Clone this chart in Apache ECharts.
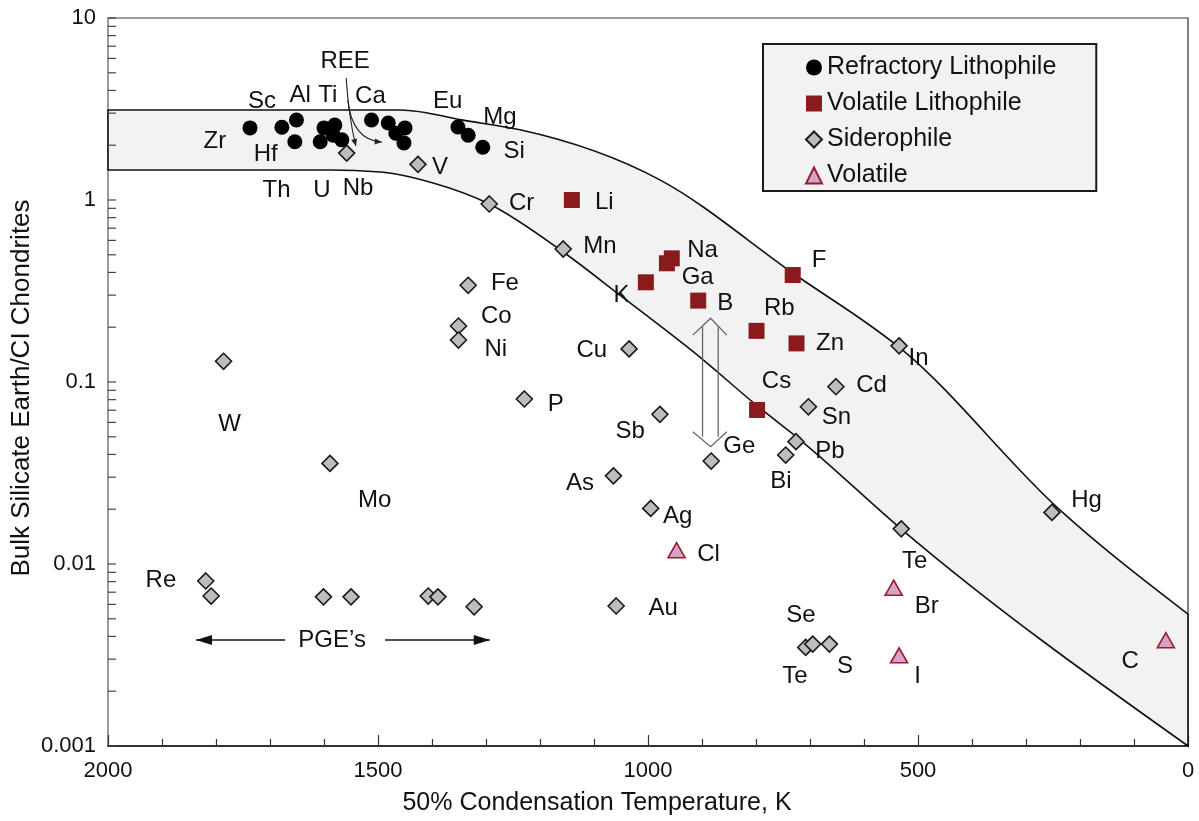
<!DOCTYPE html>
<html><head><meta charset="utf-8">
<script src="https://cdn.jsdelivr.net/npm/echarts@6/dist/echarts.min.js"></script>
<style>html,body{margin:0;padding:0;background:#fff}#c{width:1199px;height:821px}</style>
</head><body><div id="c"></div>
<script>
// ---------------- data (T in K, value = BSE/CI) ----------------
const refractoryLithophile = [[1737,2.49],[1678,2.51],[1651,2.75],[1654,2.09],[1607,2.09],[1600,2.49],[1580,2.58],[1583,2.27],[1567,2.14],[1512,2.75],[1481,2.65],[1467,2.33],[1450,2.49],[1452,2.06],[1352,2.52],[1333,2.27],[1306,1.95]];
const volatileLithophile = [[1141,1.0],[956,0.478],[965,0.449],[1004,0.353],[907,0.280],[732,0.387],[799,0.191],[725,0.163],[798,0.0702]];
const siderophile = [[1558,1.81],[1426,1.57],[1294,0.951],[1157,0.538],[1333,0.340],[1351,0.203],[1351,0.170],[1035,0.152],[1229,0.0807],[1786,0.130],[1589,0.0357],[1819,0.00807],[1809,0.00667],[1601,0.0066],[1550,0.0066],[1407,0.00667],[1389,0.0066],[1322,0.00582],[978,0.0664],[1064,0.0305],[995,0.0202],[1059,0.00588],[883,0.0368],[745,0.0397],[726,0.0470],[703,0.0731],[652,0.0942],[535,0.158],[252,0.0192],[531,0.0156],[708,0.00348],[695,0.00363],[664,0.00363]];
const volatileElements = [[947,0.0119],[545,0.00741],[535,0.00315],[41,0.00381]];

const bandUpper = [[2000,3.12],[1459,3.12],[1335,2.72],[1237,2.43],[978,1.29],[732,0.397],[524,0.146],[241,0.0203],[0,0.00531]];
const bandLower = [[2000,1.462],[1589,1.462],[1496,1.426],[1398,1.240],[1294,0.951],[1157,0.518],[1052,0.300],[904,0.137],[793,0.0720],[718,0.048],[531,0.01556],[0,0.001]];

const labelNames = ['REE','Sc','Al','Ti','Ca','Eu','Mg','Zr','Hf','Si','V','Th','U','Nb','Cr','Li','Mn','Na','Ga','K','B','F','Fe','Co','Ni','Cu','Rb','Zn','Cs','Cd','In','Sn','P','Sb','Ge','Pb','Bi','W','Mo','As','Ag','Cl','Te','Hg','Re','Au','Se','Br','Te','S','I','C','PGE\u2019s'];
const labelPos = [[1561,5.75],[1715,3.47],[1644,3.78],[1593,3.78],[1514,3.69],[1371,3.47],[1274,2.86],[1802,2.09],[1708,1.77],[1248,1.86],[1385,1.52],[1688,1.135],[1604,1.135],[1537,1.16],[1234,0.959],[1081,0.966],[1089,0.559],[899,0.526],[908,0.374],[1049,0.301],[857,0.271],[683,0.468],[1265,0.348],[1281,0.229],[1282,0.152],[1104,0.150],[757,0.254],[663,0.162],[762,0.1005],[586,0.0953],[499,0.135],[651,0.064],[1171,0.0757],[1033,0.0533],[831,0.0445],[663,0.0418],[754,0.0283],[1775,0.0586],[1506,0.0225],[1126,0.0277],[945,0.0182],[888,0.01135],[506,0.0103],[188,0.0225],[1902,0.00817],[972,0.00571],[717,0.00522],[484,0.00588],[728,0.0024],[635,0.00275],[501,0.0024],[107,0.0029],[1585,0.00382]];

// annotations (data coordinates)
const pgeArrows = [[[1672,0.00382],[1837,0.00382]],[[1487,0.00382],[1293,0.00382]]];
const doubleArrowLines = [[[899,0.201],[899,0.0501]],[[870,0.201],[870,0.0501]]];
const doubleArrowHeads = [[[917,0.181],[884,0.224],[854,0.181]],[[917,0.0533],[884,0.0441],[854,0.0533]]];
const reeCurves = [[[1559,4.68],[1554,2.82],[1541,1.98]],[[1556,3.54],[1548,2.14],[1493,2.08]]];

const xTickLabels = ['0','500','1000','1500','2000'];
const yTickValues = [0.001,0.01,0.1,1,10];
const yTickLabels = ['0.001','0.01','0.1','1','10'];
const yMinorTickValues = [];
for (let e = -3; e <= 0; e++) for (let k = 1; k <= 9; k++) yMinorTickValues.push(k * Math.pow(10, e));
yMinorTickValues.push(10);

const FONT = "'Liberation Sans', Arial, Helvetica, sans-serif";

// ---------------- helpers ----------------
function monoTangents(P) {
  const n = P.length, m = new Array(n), s = [], h = [];
  for (let i = 0; i < n - 1; i++) { h[i] = P[i+1][0] - P[i][0]; s[i] = (P[i+1][1] - P[i][1]) / h[i]; }
  for (let i = 1; i < n - 1; i++) {
    const s0 = s[i-1], s1 = s[i], h0 = h[i-1], h1 = h[i];
    const p = (s0 * h1 + s1 * h0) / (h0 + h1);
    m[i] = (Math.sign(s0) + Math.sign(s1)) * Math.min(Math.abs(s0), Math.abs(s1), 0.5 * Math.abs(p)) || 0;
  }
  m[0] = (3 * s[0] - (n > 2 ? m[1] : s[0])) / 2;
  m[n-1] = (3 * s[n-2] - (n > 2 ? m[n-2] : s[n-2])) / 2;
  return m;
}
function segs(P) {
  const m = monoTangents(P), out = [];
  for (let i = 0; i < P.length - 1; i++) {
    const h = P[i+1][0] - P[i][0];
    out.push([[P[i][0] + h/3, P[i][1] + m[i]*h/3], [P[i+1][0] - h/3, P[i+1][1] - m[i+1]*h/3]]);
  }
  return out;
}
function f(v) { return v.toFixed(2); }
function arrowHead(from, to, len, hw, color) {
  const dx = to[0]-from[0], dy = to[1]-from[1], L = Math.hypot(dx, dy) || 1;
  const ux = dx/L, uy = dy/L, bx = to[0]-ux*len, by = to[1]-uy*len;
  return {type:'polygon', shape:{points:[[to[0],to[1]],[bx - uy*hw, by + ux*hw],[bx + uy*hw, by - ux*hw]]}, style:{fill:color}};
}

function renderBand(params, api) {
  const U = bandUpper.map(p => api.coord(p));
  const Lo = bandLower.map(p => api.coord(p));
  const su = segs(U), sl = segs(Lo);
  let d = 'M' + f(U[0][0]) + ' ' + f(U[0][1]);
  for (let i = 0; i < su.length; i++) d += ' C' + f(su[i][0][0]) + ' ' + f(su[i][0][1]) + ' ' + f(su[i][1][0]) + ' ' + f(su[i][1][1]) + ' ' + f(U[i+1][0]) + ' ' + f(U[i+1][1]);
  const n = Lo.length;
  d += ' L' + f(Lo[n-1][0]) + ' ' + f(Lo[n-1][1]);
  for (let i = sl.length - 1; i >= 0; i--) d += ' C' + f(sl[i][1][0]) + ' ' + f(sl[i][1][1]) + ' ' + f(sl[i][0][0]) + ' ' + f(sl[i][0][1]) + ' ' + f(Lo[i][0]) + ' ' + f(Lo[i][1]);
  d += ' Z';
  return {type:'path', shape:{pathData:d}, style:{fill:'#f2f2f2', stroke:'#111', lineWidth:1.6}};
}

function renderAnnotations(params, api) {
  const c = p => api.coord(p);
  const kids = [];
  // log-axis ticks on the inside of the left axis
  yMinorTickValues.forEach(v => {
    const p = c([2000, v]);
    kids.push({type:'line', shape:{x1:p[0], y1:p[1], x2:p[0] + 8, y2:p[1]}, style:{stroke:'#444', lineWidth:1.2}});
  });
  pgeArrows.forEach(a => {
    const p0 = c(a[0]), p1 = c(a[1]);
    kids.push({type:'line', shape:{x1:p0[0], y1:p0[1], x2:p1[0], y2:p1[1]}, style:{stroke:'#111', lineWidth:1.6}});
    kids.push(arrowHead(p0, p1, 16, 5, '#111'));
  });
  doubleArrowLines.forEach(a => {
    const p0 = c(a[0]), p1 = c(a[1]);
    kids.push({type:'line', shape:{x1:p0[0], y1:p0[1], x2:p1[0], y2:p1[1]}, style:{stroke:'#666', lineWidth:1.3}});
  });
  doubleArrowHeads.forEach(a => {
    kids.push({type:'polyline', shape:{points:a.map(c)}, style:{stroke:'#666', lineWidth:1.3, fill:null}});
  });
  reeCurves.forEach(a => {
    const p0 = c(a[0]), cp = c(a[1]), p1 = c(a[2]);
    kids.push({type:'bezierCurve', shape:{x1:p0[0], y1:p0[1], cpx1:cp[0], cpy1:cp[1], x2:p1[0], y2:p1[1]}, style:{stroke:'#222', lineWidth:1.1, fill:null}});
    kids.push(arrowHead(cp, p1, 7, 3, '#222'));
  });
  return {type:'group', children:kids};
}

function renderLabels(params, api) {
  const p = api.coord([api.value(0), api.value(1)]);
  return {type:'text', x:p[0], y:p[1], style:{text:labelNames[params.dataIndex], fontFamily:FONT, fontSize:24, fill:'#111', align:'center', verticalAlign:'middle'}};
}

const chart = echarts.init(document.getElementById('c'), null, {renderer:'canvas'});
chart.setOption({
  animation: false,
  backgroundColor: '#fff',
  grid: {left:108, right:11, top:18, bottom:75, show:true, borderColor:'#7a7a7a', borderWidth:1.5, backgroundColor:'transparent'},
  xAxis: {
    type:'value', inverse:true, min:0, max:2000, interval:500,
    axisLine:{show:true, lineStyle:{color:'#111', width:1.6}},
    axisTick:{show:true, inside:true, length:11, lineStyle:{color:'#333', width:1.2}},
    minorTick:{show:true, splitNumber:5, length:7, lineStyle:{color:'#333', width:1.2}},
    splitLine:{show:false},
    axisLabel:{color:'#111', fontFamily:FONT, fontSize:22, margin:14, formatter: v => xTickLabels[Math.round(v/500)]}
  },
  yAxis: {
    type:'log', logBase:10, min:0.001, max:10,
    axisLine:{show:true, lineStyle:{color:'#777', width:1.5}},
    axisTick:{show:false},
    splitLine:{show:false},
    axisLabel:{color:'#111', fontFamily:FONT, fontSize:22, margin:12, customValues:yTickValues,
      formatter: v => { const i = yTickValues.findIndex(t => Math.abs(Math.log10(t) - Math.log10(v)) < 1e-6); return i >= 0 ? yTickLabels[i] : ''; }}
  },
  legend: {
    orient:'vertical', left:763, top:44,
    padding:[11, 40, 3, 42], itemGap:11, itemWidth:16, itemHeight:16,
    backgroundColor:'#f2f2f2', borderColor:'#1a1a1a', borderWidth:2,
    textStyle:{color:'#111', fontFamily:FONT, fontSize:25, lineHeight:25},
    data:['Refractory Lithophile','Volatile Lithophile','Siderophile','Volatile']
  },
  graphic: [
    {type:'text', x:597, y:803, style:{text:'50% Condensation Temperature, K', fontFamily:FONT, fontSize:25, fill:'#111', align:'center', verticalAlign:'middle'}},
    {type:'text', x:22, y:388, rotation:Math.PI/2, style:{text:'Bulk Silicate Earth/CI Chondrites', fontFamily:FONT, fontSize:26, fill:'#111', align:'center', verticalAlign:'middle'}}
  ],
  series: [
    {type:'custom', name:'band', renderItem:renderBand, data:[[1000,1]], encode:{x:0,y:1}, z:1, silent:true, clip:false},
    {type:'custom', name:'annotations', renderItem:renderAnnotations, data:[[1000,1]], encode:{x:0,y:1}, z:4, silent:true, clip:false},
    {type:'scatter', name:'Refractory Lithophile', data:refractoryLithophile, symbol:'circle', symbolSize:15, itemStyle:{color:'#000', opacity:1}, z:3},
    {type:'scatter', name:'Volatile Lithophile', data:volatileLithophile, symbol:'rect', symbolSize:16, itemStyle:{color:'#8b1a1c', opacity:1}, z:3},
    {type:'scatter', name:'Siderophile', data:siderophile, symbol:'diamond', symbolSize:16, itemStyle:{color:'#bdbdbd', borderColor:'#1a1a1a', borderWidth:1.6, opacity:1}, z:3},
    {type:'scatter', name:'Volatile', data:volatileElements, symbol:'triangle', symbolSize:[17,15], itemStyle:{color:'#d4a3c7', borderColor:'#9b1c2c', borderWidth:1.6, opacity:1}, z:3},
    {type:'custom', name:'labels', renderItem:renderLabels, data:labelPos, encode:{x:0,y:1}, z:5, silent:true, clip:false}
  ]
});
</script></body></html>
